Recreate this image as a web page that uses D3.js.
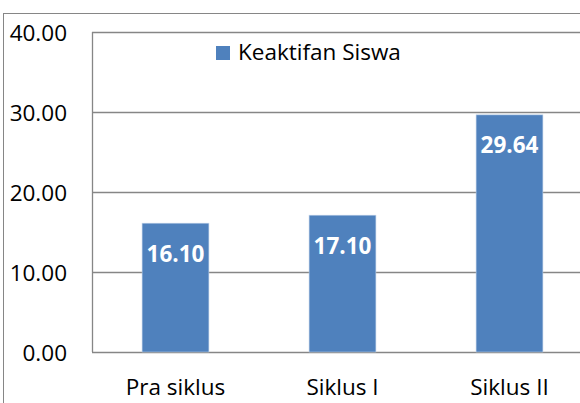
<!DOCTYPE html>
<html>
<head>
<meta charset="utf-8">
<script src="https://cdn.jsdelivr.net/npm/d3@7"></script>
<style>
  body { margin:0; background:#fff; }
  svg { display:block; font-family:"Open Sans","Noto Sans",sans-serif; }
</style>
</head>
<body>
<script>
// chart data
var categories = ["Pra siklus", "Siklus I", "Siklus II"];
var values = [16.10, 17.10, 29.64];
var tickValues = [0, 10, 20, 30, 40];
var seriesName = "Keaktifan Siswa";

var width = 580, height = 403;
var plot = {left: 92, top: 32, right: 593, bottom: 352};
var fs = 22.5;

var svg = d3.select("body").append("svg")
  .attr("width", width)
  .attr("height", height);

// outer chart frame
svg.append("rect")
  .attr("x", 3.5).attr("y", 13.5)
  .attr("width", 700).attr("height", 500)
  .attr("fill", "none").attr("stroke", "#868686").attr("stroke-width", 1);

var x = d3.scaleBand().domain(categories).range([plot.left, plot.right]).paddingInner(0.6).paddingOuter(0.3);
var y = d3.scaleLinear().domain([0, 40]).range([plot.bottom, plot.top]);

// gridlines
svg.append("g").selectAll("line").data(tickValues).enter()
  .append("line")
  .attr("x1", plot.left).attr("x2", plot.right)
  .attr("y1", function(d){ return Math.round(y(d)) + 0.5; })
  .attr("y2", function(d){ return Math.round(y(d)) + 0.5; })
  .attr("stroke", "#868686").attr("stroke-width", 1.3);

// left edge of plot
svg.append("line")
  .attr("x1", plot.left + 0.5).attr("x2", plot.left + 0.5)
  .attr("y1", plot.top).attr("y2", plot.bottom)
  .attr("stroke", "#868686").attr("stroke-width", 1.3);

// y tick labels
svg.append("g").selectAll("text").data(tickValues).enter()
  .append("text")
  .attr("x", 67)
  .attr("y", function(d){ return y(d); })
  .attr("dy", "0.4em")
  .attr("text-anchor", "end")
  .attr("font-size", fs)
  .attr("fill", "#000")
  .text(function(d){ return d.toFixed(2); });

// bars
svg.append("g").selectAll("rect").data(values).enter()
  .append("rect")
  .attr("x", function(d, i){ return x(categories[i]); })
  .attr("y", function(d){ return y(d); })
  .attr("width", x.bandwidth())
  .attr("height", function(d){ return y(0) - y(d); })
  .attr("fill", "#4F81BD")
  .attr("stroke", "#B9CDE5").attr("stroke-width", 0.6);

// value labels
svg.append("g").selectAll("text").data(values).enter()
  .append("text")
  .attr("x", function(d, i){ return x(categories[i]) + x.bandwidth() / 2; })
  .attr("y", function(d){ return y(d) + 38.5; })
  .attr("text-anchor", "middle")
  .attr("font-size", fs)
  .attr("font-weight", "bold")
  .attr("fill", "#fff")
  .text(function(d){ return d.toFixed(2); });

// category labels
svg.append("g").selectAll("text").data(categories).enter()
  .append("text")
  .attr("x", function(d){ return x(d) + x.bandwidth() / 2; })
  .attr("y", 395)
  .attr("text-anchor", "middle")
  .attr("font-size", fs)
  .attr("fill", "#000")
  .text(function(d){ return d; });

// legend
var legend = svg.append("g");
legend.append("rect")
  .attr("x", 216).attr("y", 46)
  .attr("width", 14).attr("height", 14)
  .attr("fill", "#4F81BD");
legend.append("text")
  .attr("x", 238).attr("y", 60)
  .attr("font-size", fs)
  .attr("fill", "#000")
  .text(seriesName);
</script>
</body>
</html>
